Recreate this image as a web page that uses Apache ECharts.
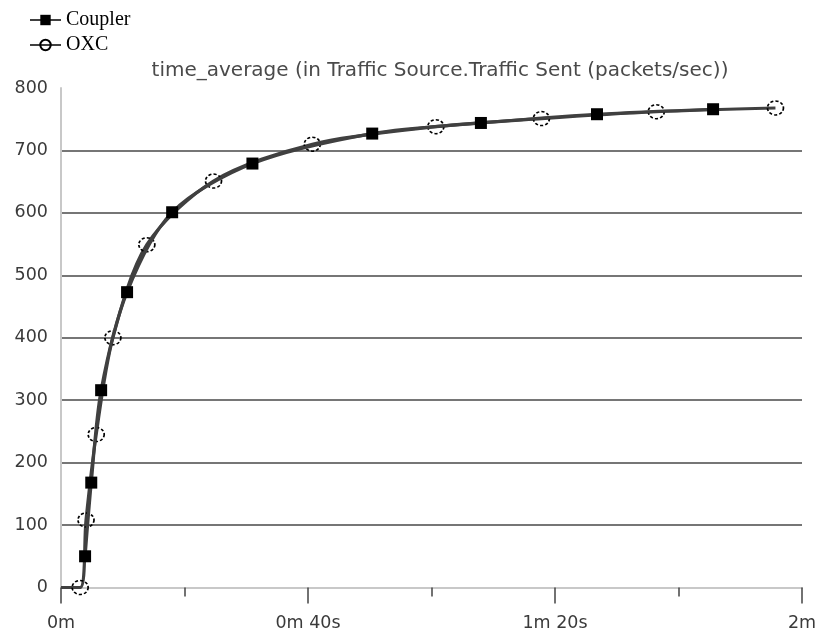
<!DOCTYPE html>
<html>
<head>
<meta charset="utf-8">
<script src="https://cdn.jsdelivr.net/npm/echarts@6/dist/echarts.min.js"></script>
<style>
html,body{margin:0;padding:0;background:#fff;}
#chart{width:823px;height:639px;}
</style>
</head>
<body>
<div id="chart"></div>
<script>
// time in seconds, value in packets/sec
const couplerData = [[3.9,50],[4.9,168],[6.5,316],[10.7,473],[18.0,601],[31.0,679],[50.4,727],[68.0,744],[86.8,758],[105.6,766]];
const oxcData = [[0,0],[3.1,0],[4.05,108],[5.7,245],[8.4,400],[13.9,549],[24.7,651],[40.7,710],[60.7,738],[77.8,751],[96.4,762],[115.7,768]];
const xTickLabels = {0:'0m',40:'0m 40s',80:'1m 20s',120:'2m'};
const titleText = 'time_average (in Traffic Source.Traffic Sent (packets/sec))';

const chart = echarts.init(document.getElementById('chart'));
const oxcSeries = oxcData.map((p,i)=> i===0 ? {value:p, symbol:'none'} : {value:p});
chart.setOption({
  animation:false,
  backgroundColor:'#fff',
  title:{text:titleText,left:435,textAlign:'center',top:56,
    textStyle:{fontFamily:'DejaVu Sans',fontSize:20,fontWeight:'normal',color:'#4a4a4a'}},
  legend:{orient:'vertical',left:24,top:5,itemGap:5,itemWidth:31,itemHeight:13,
    textStyle:{fontFamily:'Liberation Serif',fontSize:20,color:'#000'},
    data:['Coupler','OXC']},
  grid:{left:61,right:21,top:88,bottom:51.5,containLabel:false},
  xAxis:{type:'value',min:0,max:120,interval:40,offset:4,
    axisLine:{show:true,lineStyle:{color:'#c8c8c8',width:2}},
    axisTick:{show:true,length:16,lineStyle:{color:'#444',width:1.5}},
    minorTick:{show:true,splitNumber:2,length:9,lineStyle:{color:'#444',width:1.5}},
    splitLine:{show:false},
    axisLabel:{margin:23,fontFamily:'DejaVu Sans',fontSize:17.5,color:'#3a3a3a',
      formatter:v=>xTickLabels[v]!==undefined?xTickLabels[v]:''}},
  yAxis:{type:'value',min:0,max:800,interval:100,
    axisLine:{show:true,lineStyle:{color:'#c8c8c8',width:2}},
    axisTick:{show:false},
    splitLine:{show:true,showMinLine:false,showMaxLine:false,lineStyle:{color:'#484848',width:1.5}},
    axisLabel:{margin:13,fontFamily:'DejaVu Sans',fontSize:17.5,color:'#3a3a3a'}},
  series:[
    {name:'OXC',type:'line',smooth:0.3,data:oxcSeries,symbol:'circle',symbolSize:[16,14],
      lineStyle:{color:'#404040',width:3.2},
      itemStyle:{color:'rgba(255,255,255,0)',borderColor:'#000',borderWidth:1.6,borderType:[3,2]},
      z:2},
    {name:'Coupler',type:'line',smooth:0.3,data:couplerData,symbol:'rect',symbolSize:12,
      lineStyle:{color:'#404040',width:3.2},
      itemStyle:{color:'#000',borderColor:'#000',borderWidth:0},
      z:3}
  ]
});
</script>
</body>
</html>
